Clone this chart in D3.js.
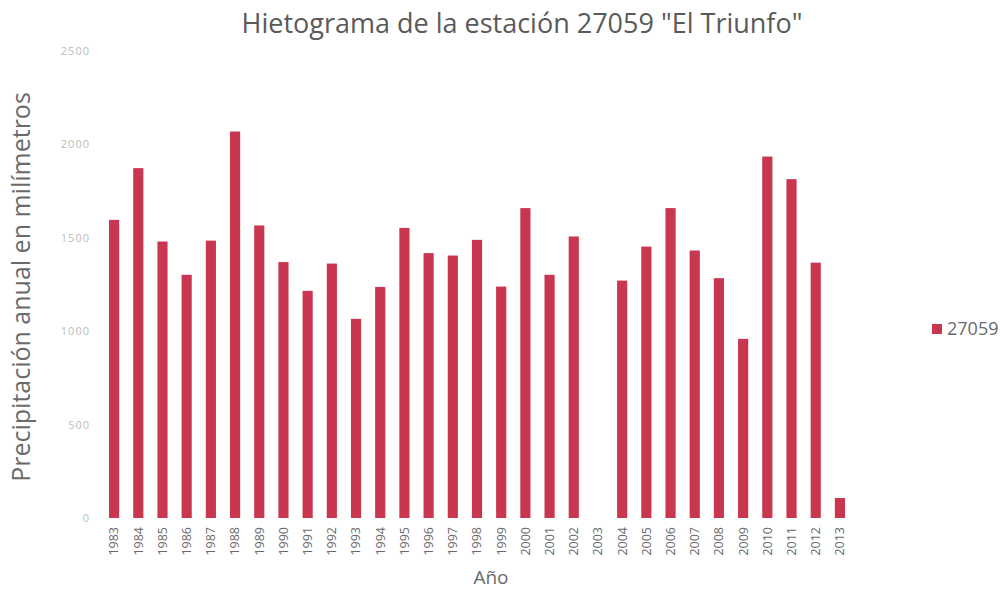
<!DOCTYPE html>
<html>
<head>
<meta charset="utf-8">
<script src="https://cdn.jsdelivr.net/npm/d3@7"></script>
<style>
	body { margin: 0; background: #fff; }
	text { font-family: "Open Sans", Lato, sans-serif; }
</style>
</head>
<body>
<div id="chart"></div>
<script>
// annual precipitation, station 27059
const years = d3.range(1983, 2014).map(String);
const precip = [1596, 1873, 1480, 1302, 1485, 2069, 1566, 1370, 1216, 1362,
	1066, 1237, 1553, 1418, 1405, 1489, 1239, 1659, 1302, 1507,
	0, 1271, 1453, 1659, 1432, 1284, 959, 1935, 1814, 1367, 107];
const yTicks = [0, 500, 1000, 1500, 2000, 2500];
const seriesName = "27059";

const width = 1002, height = 592;
const margin = {top: 51, right: 150, bottom: 74, left: 102};
const w = width - margin.left - margin.right,
	h = height - margin.top - margin.bottom;

const svg = d3.select("#chart").append("svg")
		.attr("width", width)
		.attr("height", height);

const g = svg.append("g")
		.attr("transform", `translate(${margin.left}, ${margin.top})`);

const x = d3.scaleBand()
		.domain(years)
		.range([0, w])
		.paddingInner(0.58)
		.paddingOuter(0.29);
const y = d3.scaleLinear()
		.domain([0, 2500])
		.range([h, 0]);

// y axis, no line
const yaxis = g.append("g")
		.call(d3.axisLeft(y).tickValues(yTicks).tickFormat(d3.format("d"))
			.tickSize(0).tickPadding(12));
yaxis.select(".domain").remove();
yaxis.selectAll("text")
		.attr("fill", "#bdbdbd")
		.style("font-size", "11px")
		.style("letter-spacing", "1px");

const xaxis = g.append("g")
		.attr("transform", `translate(0, ${h})`)
		.call(d3.axisBottom(x).tickSize(0));
xaxis.select(".domain").remove();
xaxis.selectAll("text")
		.attr("fill", "#6a6a6a")
		.style("font-size", "12.5px")
		.attr("transform", "rotate(-90)")
		.attr("text-anchor", "end")
		.attr("x", -9)
		.attr("y", 0)
		.attr("dy", "0.35em");

g.selectAll(".bar")
		.data(precip)
		.enter().append("rect")
		.attr("class", "bar")
		.attr("fill", "#c8374f")
		.attr("x", (d, i) => x(years[i]))
		.attr("width", x.bandwidth())
		.attr("y", d => y(d))
		.attr("height", d => h - y(d));

svg.append("text")
		.attr("x", 522)
		.attr("y", 33)
		.attr("text-anchor", "middle")
		.attr("fill", "#5a5a5a")
		.style("font-size", "27px")
		.text('Hietograma de la estación 27059 "El Triunfo"');

svg.append("text")
		.attr("transform", "translate(30, 287) rotate(-90)")
		.attr("text-anchor", "middle")
		.attr("fill", "#6a6a6a")
		.style("font-size", "25px")
		.text("Precipitación anual en milímetros");

svg.append("text")
		.attr("x", 491)
		.attr("y", 584)
		.attr("text-anchor", "middle")
		.attr("fill", "#6a6a6a")
		.style("font-size", "19px")
		.text("Año");

const legend = svg.append("g")
		.attr("transform", "translate(932, 324)");
legend.append("rect")
		.attr("width", 10)
		.attr("height", 10)
		.attr("fill", "#c8374f");
legend.append("text")
		.attr("x", 15)
		.attr("y", 5)
		.attr("dy", "0.35em")
		.attr("fill", "#6a6a6a")
		.style("font-size", "18px")
		.text(seriesName);
</script>
</body>
</html>
